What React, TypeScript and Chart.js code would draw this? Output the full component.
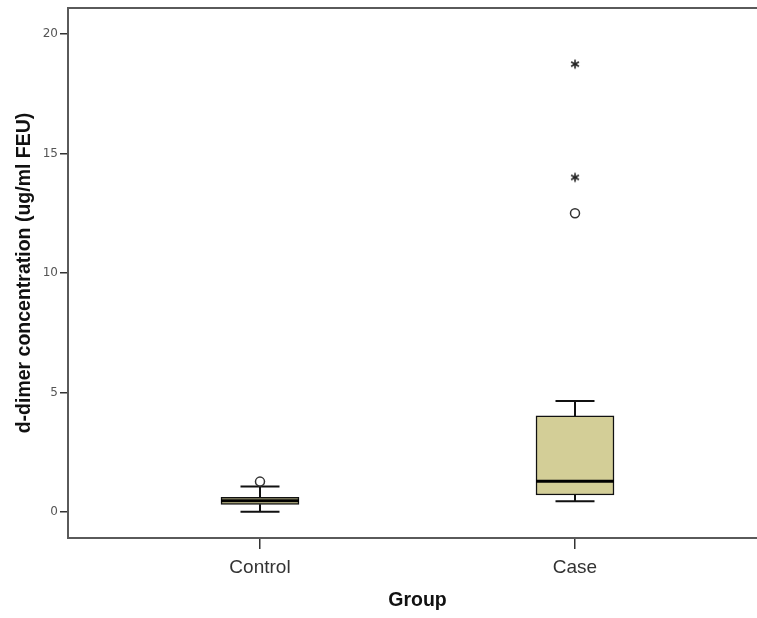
import React, { useEffect, useRef } from "react";
import { Chart, registerables } from "chart.js";

Chart.register(...registerables);

const categories = ["Control", "Case"];
const q1Values = [0.32, 0.71];
const medianValues = [0.47, 1.28];
const q3Values = [0.61, 4.02];
const whiskerLowValues = [0.01, 0.45];
const whiskerHighValues = [1.06, 4.64];
const outlierGroups = [0, 1];
const outlierValues = [1.27, 12.5];
const extremeGroups = [1, 1];
const extremeValues = [14.0, 18.74];
const yTickValues = [0, 5, 10, 15, 20];

const BOX_FILL = "#D3CE97";
const LINE = "#111";
const FRAME = "#5a5a5a";

function makeAsterisk(): HTMLCanvasElement {
  const c = document.createElement("canvas");
  c.width = 12;
  c.height = 12;
  const g = c.getContext("2d")!;
  g.strokeStyle = "#222";
  g.lineWidth = 1.6;
  const cx = 6, cy = 6, r = 4.5;
  for (let k = 0; k < 3; k++) {
    const a = Math.PI / 2 + (k * Math.PI) / 3;
    g.beginPath();
    g.moveTo(cx + r * Math.cos(a), cy + r * Math.sin(a));
    g.lineTo(cx - r * Math.cos(a), cy - r * Math.sin(a));
    g.stroke();
  }
  return c;
}

const boxPlugin = {
  id: "boxParts",
  beforeDatasetsDraw(chart: any) {
    const { ctx } = chart;
    const xs = chart.scales.x;
    const ys = chart.scales.y;
    const meta = chart.getDatasetMeta(0);
    ctx.save();
    ctx.strokeStyle = LINE;
    ctx.lineWidth = 2;
    categories.forEach((_, i) => {
      const x = xs.getPixelForValue(i);
      const w = meta.data[i] ? meta.data[i].width : 78;
      const capHalf = w / 4;
      const yLo = ys.getPixelForValue(whiskerLowValues[i]);
      const yHi = ys.getPixelForValue(whiskerHighValues[i]);
      const yQ1 = ys.getPixelForValue(q1Values[i]);
      const yQ3 = ys.getPixelForValue(q3Values[i]);
      ctx.beginPath();
      ctx.moveTo(x, yQ3);
      ctx.lineTo(x, yHi);
      ctx.moveTo(x, yQ1);
      ctx.lineTo(x, yLo);
      ctx.moveTo(x - capHalf, yHi);
      ctx.lineTo(x + capHalf, yHi);
      ctx.moveTo(x - capHalf, yLo);
      ctx.lineTo(x + capHalf, yLo);
      ctx.stroke();
    });
    ctx.restore();
  },
  afterDatasetsDraw(chart: any) {
    const { ctx } = chart;
    const xs = chart.scales.x;
    const ys = chart.scales.y;
    const meta = chart.getDatasetMeta(0);
    ctx.save();
    ctx.strokeStyle = "#000";
    ctx.lineWidth = 3;
    categories.forEach((_, i) => {
      const x = xs.getPixelForValue(i);
      const w = meta.data[i] ? meta.data[i].width : 78;
      const y = ys.getPixelForValue(medianValues[i]);
      ctx.beginPath();
      ctx.moveTo(x - w / 2, y);
      ctx.lineTo(x + w / 2, y);
      ctx.stroke();
    });
    ctx.restore();
  },
  afterDraw(chart: any) {
    const { ctx, chartArea } = chart;
    ctx.save();
    ctx.strokeStyle = FRAME;
    ctx.lineWidth = 2;
    ctx.beginPath();
    ctx.moveTo(chartArea.left - 1, chartArea.top);
    ctx.lineTo(chartArea.right, chartArea.top);
    ctx.lineTo(chartArea.right, chartArea.bottom);
    ctx.stroke();
    ctx.restore();
  },
};

export default function App() {
  const ref = useRef<HTMLCanvasElement | null>(null);

  useEffect(() => {
    if (!ref.current) return;
    const asterisk = makeAsterisk();
    const chart = new Chart(ref.current, {
      type: "bar",
      data: {
        datasets: [
          {
            type: "bar",
            data: categories.map((_, i) => ({ x: i, y: [q1Values[i], q3Values[i]] })) as any,
            backgroundColor: BOX_FILL,
            borderColor: LINE,
            borderWidth: 1.5,
            borderSkipped: false,
            barThickness: 78,
          } as any,
          {
            type: "scatter",
            data: outlierGroups.map((g, i) => ({ x: g, y: outlierValues[i] })),
            pointStyle: "circle",
            pointRadius: 4.5,
            pointBackgroundColor: "#fff",
            pointBorderColor: "#333",
            pointBorderWidth: 1.5,
          } as any,
          {
            type: "scatter",
            data: extremeGroups.map((g, i) => ({ x: g, y: extremeValues[i] })),
            pointStyle: asterisk,
            pointRadius: 6,
          } as any,
        ],
      },
      options: {
        responsive: false,
        animation: false,
        layout: { padding: { top: 8, left: 0, right: 0, bottom: 0 } },
        plugins: {
          legend: { display: false },
          tooltip: { enabled: false },
        },
        scales: {
          x: {
            type: "linear",
            offset: false,
            min: -0.6095,
            max: 1.6095,
            afterBuildTicks: (s: any) => {
              s.ticks = categories.map((_, i) => ({ value: i }));
            },
            afterFit: (s: any) => {
              s.height = 80;
              s.paddingLeft = 0;
              s.paddingRight = 0;
            },
            grid: {
              display: true,
              offset: false,
              drawOnChartArea: false,
              drawTicks: true,
              tickLength: 11,
              color: "#333",
              lineWidth: 1.5,
            },
            border: { display: true, color: FRAME, width: 2 },
            ticks: {
              autoSkip: false,
              maxRotation: 0,
              padding: 7,
              color: "#333",
              font: { family: "'Liberation Sans', Arial, sans-serif", size: 19 },
              callback: (v: any) => categories[v] ?? "",
            },
            title: {
              display: true,
              text: "Group",
              color: "#111",
              font: { family: "'Liberation Sans', Arial, sans-serif", size: 19.5, weight: "bold" },
              padding: { top: 0, bottom: 6 },
            },
          },
          y: {
            type: "linear",
            min: -1.09,
            max: 21.09,
            afterBuildTicks: (s: any) => {
              s.ticks = yTickValues.map((v) => ({ value: v }));
            },
            afterFit: (s: any) => {
              s.width = 68;
              s.paddingTop = 0;
              s.paddingBottom = 0;
            },
            grid: {
              display: true,
              drawOnChartArea: false,
              drawTicks: true,
              tickLength: 8,
              color: "#333",
              lineWidth: 1.5,
            },
            border: { display: true, color: FRAME, width: 2 },
            ticks: {
              padding: 2,
              color: "#555",
              font: { family: "'DejaVu Sans', sans-serif", size: 12 },
            },
            title: {
              display: true,
              text: "d-dimer concentration (ug/ml FEU)",
              color: "#111",
              font: { family: "'Liberation Sans', Arial, sans-serif", size: 19.5, weight: "bold" },
              padding: { top: 13, bottom: 0 },
            },
          },
        },
      },
      plugins: [boxPlugin],
    });
    return () => chart.destroy();
  }, []);

  return (
    <div style={{ position: "fixed", left: 0, top: 0, width: 757, height: 618, overflow: "hidden", background: "#fff" }}>
      <canvas ref={ref} width={774} height={618} style={{ display: "block" }} />
    </div>
  );
}
